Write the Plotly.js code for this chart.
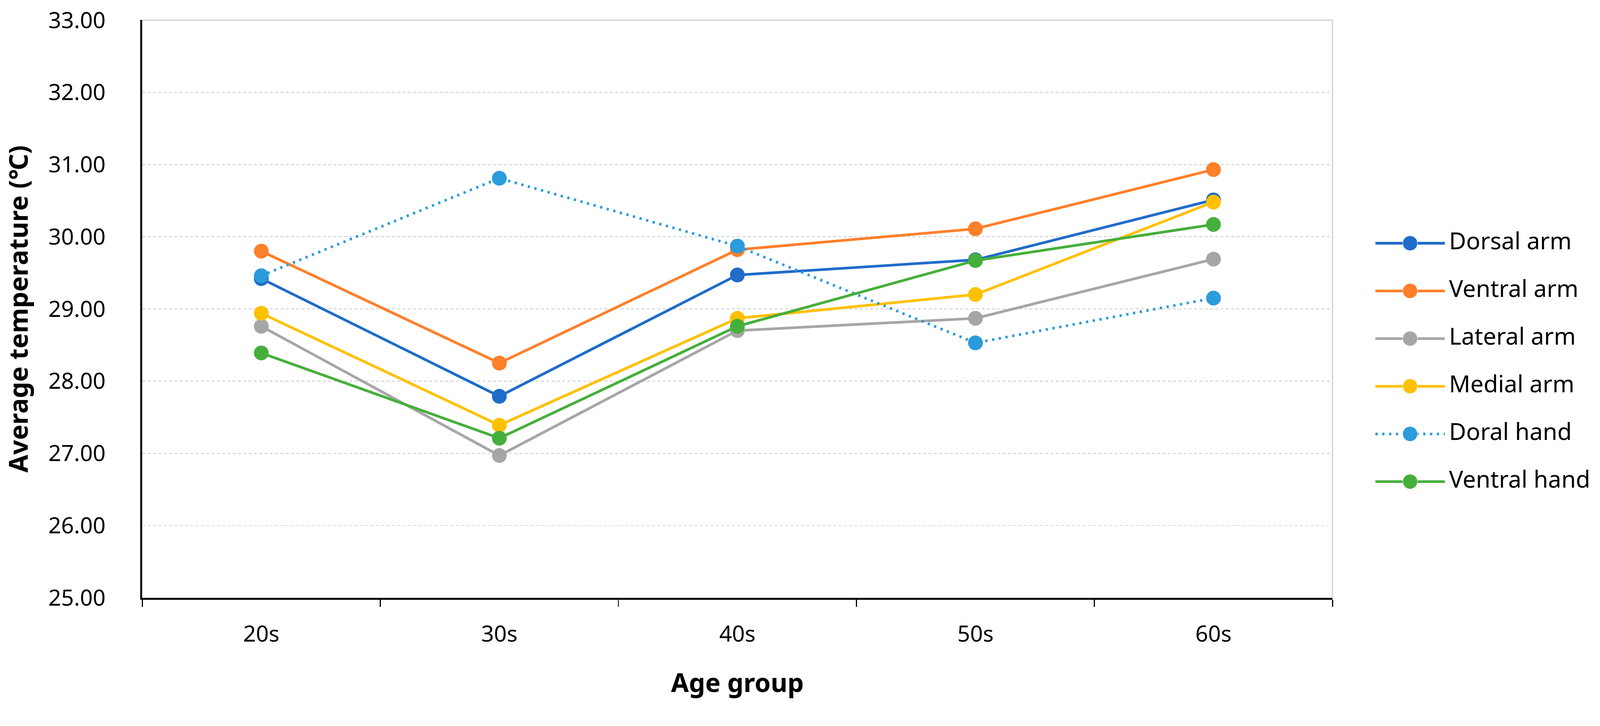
<!DOCTYPE html>
<html>
<head>
<meta charset="utf-8">
<script src="https://cdn.plot.ly/plotly-3.0.1.min.js"></script>
<style>html,body{margin:0;padding:0;background:#fff;overflow:hidden;}#chart{transform-origin:0 0;}</style>
</head>
<body>
<div id="chart"></div>
<script>
// ---- data ----
const ageGroups = ['20s', '30s', '40s', '50s', '60s'];
const seriesNames = ['Dorsal arm', 'Ventral arm', 'Lateral arm', 'Medial arm', 'Doral hand', 'Ventral hand'];
const dorsalArm   = [29.42, 27.79, 29.47, 29.68, 30.51];
const ventralArm  = [29.80, 28.25, 29.82, 30.11, 30.93];
const lateralArm  = [28.76, 26.97, 28.70, 28.87, 29.69];
const medialArm   = [28.94, 27.39, 28.87, 29.20, 30.48];
const doralHand   = [29.46, 30.81, 29.87, 28.53, 29.15];
const ventralHand = [28.39, 27.21, 28.76, 29.67, 30.17];
const seriesValues = [dorsalArm, ventralArm, lateralArm, medialArm, doralHand, ventralHand];
const yTickValues = [25, 26, 27, 28, 29, 30, 31, 32, 33];

// ---- styles ----
const colors = ['#1f6cc9', '#ff7f2a', '#a6a6a6', '#ffc000', '#2a9bdb', '#46af3b'];
const dashes = ['solid', 'solid', 'solid', 'solid', '6px,12px', 'solid'];
const FONT = 'Noto Sans, Open Sans, sans-serif';

const W = 4217, H = 1858;
const L = 375, T = 53, B = 283;
const plotW = 3137;
const areaW = W - L;
const legX0 = 3625, legSample = 183, legSpan = 1.4;

// fit the fixed-size drawing to the actual viewport
const scale = Math.min(window.innerWidth / W, window.innerHeight / H) || 1;
document.getElementById('chart').style.transform = 'scale(' + scale + ')';

const traces = [];
seriesNames.forEach((name, i) => {
  traces.push({
    type: 'scatter', mode: 'lines+markers',
    name: name, x: ageGroups, y: seriesValues[i],
    xaxis: 'x', yaxis: 'y',
    line: {color: colors[i], width: 7, dash: dashes[i]},
    marker: {color: colors[i], size: 39},
    showlegend: false, cliponaxis: false
  });
});
// custom legend drawn in a small helper subplot
seriesNames.forEach((name, i) => {
  traces.push({
    type: 'scatter', mode: 'lines+markers',
    x: [0, 0.5, 1], y: [i, i, i],
    xaxis: 'x2', yaxis: 'y2',
    line: {color: colors[i], width: 7, dash: dashes[i]},
    marker: {color: colors[i], size: [0, 39, 0], opacity: 1},
    showlegend: false, cliponaxis: false, hoverinfo: 'skip'
  });
  traces.push({
    type: 'scatter', mode: 'text',
    x: [1.06], y: [i],
    xaxis: 'x2', yaxis: 'y2',
    text: [name], textposition: 'middle right',
    textfont: {family: FONT, size: 62, color: '#000'},
    showlegend: false, cliponaxis: false, hoverinfo: 'skip'
  });
});

const layout = {
  width: W, height: H,
  margin: {l: L, r: 0, t: T, b: B, pad: 0},
  paper_bgcolor: '#fff', plot_bgcolor: '#fff',
  font: {family: FONT, color: '#000'},
  showlegend: false,
  xaxis: {
    domain: [0, plotW / areaW], type: 'category', range: [-0.5, 4.5],
    tickson: 'boundaries', ticks: 'outside', ticklen: 19, tickwidth: 3, tickcolor: '#000',
    showline: true, linewidth: 5, linecolor: '#000',
    showgrid: false, zeroline: false,
    tickfont: {family: FONT, size: 59, color: '#000'},
    ticklabelstandoff: 40,
    title: {text: 'Age group', font: {family: FONT, size: 68, weight: 700, color: '#000'}, standoff: 70},
    automargin: false, fixedrange: true
  },
  yaxis: {
    domain: [0, 1], range: [25, 33], tickvals: yTickValues, tickformat: '.2f',
    showline: true, linewidth: 5, linecolor: '#000',
    showgrid: true, gridcolor: '#d9d9d9', gridwidth: 3, griddash: '8px,6px',
    zeroline: false, ticks: '',
    tickfont: {family: FONT, size: 59, color: '#000'},
    ticklabelstandoff: 80,
    title: {text: 'Average temperature (℃)', font: {family: FONT, size: 68, weight: 700, color: '#000'}, standoff: 40},
    automargin: false, fixedrange: true
  },
  xaxis2: {domain: [(legX0 - L) / areaW, (legX0 + legSample * legSpan - L) / areaW], range: [0, legSpan], visible: false, anchor: 'y2', fixedrange: true},
  yaxis2: {domain: [0, 1], range: [7.436, -4.68], visible: false, anchor: 'x2', fixedrange: true},
  shapes: [
    {type: 'line', xref: 'x domain', yref: 'y domain', x0: 0, x1: 1, y0: 1, y1: 1, line: {color: '#d9d9d9', width: 4}, layer: 'below'},
    {type: 'line', xref: 'x domain', yref: 'y domain', x0: 1, x1: 1, y0: 0, y1: 1, line: {color: '#d9d9d9', width: 4}, layer: 'below'}
  ]
};

Plotly.newPlot('chart', traces, layout, {displayModeBar: false, staticPlot: true});
</script>
</body>
</html>
